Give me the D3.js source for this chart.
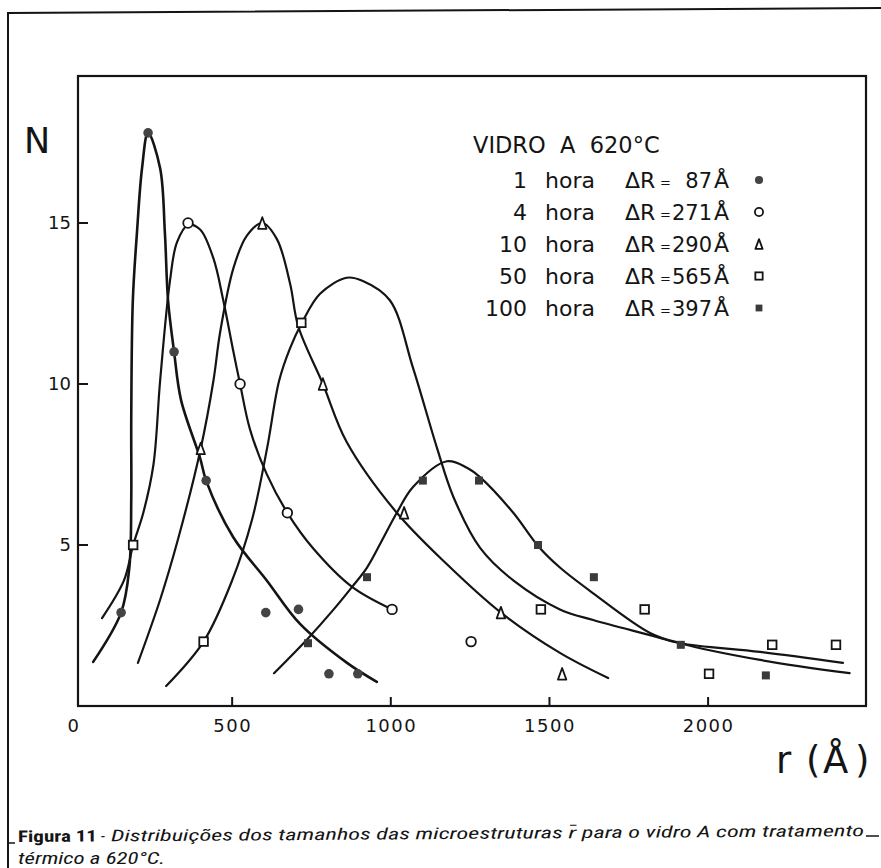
<!DOCTYPE html>
<html><head><meta charset="utf-8">
<script src="https://cdn.jsdelivr.net/npm/d3@7"></script>
<style>body{margin:0;background:#fff}svg{display:block}</style>
</head><body>
<svg id="chart" width="881" height="868"></svg>
<script>
// ---------- data ----------
const hours = ["1", "4", "10", "50", "100"];
const deltaR = ["87", "271", "290", "565", "397"];
const markerKinds = ["dot", "circle", "triangle", "square", "filledSquare"];
const xTicks = [0, 500, 1000, 1500, 2000];
const yTicks = [5, 10, 15];

// measured points  [r (Å), N]
const pts1h   = [[150,2.9],[235,17.8],[317,11],[418,7],[606,2.9],[709,3],[805,1],[896,1]];
const pts4h   = [[361,15],[525,10],[674,6],[1004,3],[1253,2]];
const pts10h  = [[401,8],[595,15],[786,10],[1042,6],[1347,2.9],[1540,1]];
const pts50h  = [[188,5],[410,2],[718,11.9],[1473,3],[1800,3],[2003,1],[2202,1.9],[2403,1.9]];
const pts100h = [[739,1.95],[925,4],[1101,7],[1278,7],[1464,5],[1640,4],[1914,1.9],[2182,0.95]];

// hand-drawn fitted curves  [r (Å), N]
const curve1h   = [[62,1.37],[150,2.9],[176,4.3],[182,6.4],[182,8.9],[187,12.6],[200,14.7],[216,16.7],[235,17.8],[273,16.7],[288,14.7],[298,12.6],[317,11],[339,9.5],[399,7.7],[418,7],[503,5.25],[609,3.9],[714,2.55],[862,1.34],[956,0.75]];
const curve4h   = [[90,2.73],[159,3.9],[188,5],[220,6],[252,7.5],[273,10.1],[304,13.2],[326,14.4],[361,14.94],[399,14.8],[441,13.9],[472,12.6],[504,11],[525,10],[556,8.6],[609,7.2],[674,6],[755,4.9],[878,3.7],[1004,3]];
const curve10h  = [[203,1.34],[273,3.3],[330,5.2],[401,8],[441,10.1],[462,11.6],[504,13.6],[546,14.6],[595,15],[641,14.5],[683,13.1],[708,11.8],[786,10],[861,8.2],[1019,6],[1177,4.4],[1347,2.9],[1533,1.65],[1685,0.87]];
const curve50h  = [[292,0.62],[410,2],[500,3.9],[563,5.8],[610,8.0],[648,10.1],[682,11.1],[720,11.9],[777,12.8],[861,13.3],[912,13.2],[997,12.6],[1070,10.5],[1146,8.0],[1197,6.5],[1282,4.9],[1386,3.9],[1533,3.0],[1638,2.67],[1817,2.2],[1912,1.95],[2164,1.68],[2425,1.34]];
const curve100h = [[632,1.02],[739,2.1],[820,3.0],[878,3.7],[925,4.3],[970,5.1],[1019,6],[1070,6.8],[1177,7.6],[1240,7.4],[1282,7.1],[1386,6.0],[1464,4.97],[1533,4.3],[1638,3.5],[1817,2.27],[1912,1.95],[2164,1.43],[2446,1.02]];

const series = [
  {pts: pts1h,   curve: curve1h,   kind: markerKinds[0], h: hours[0], dr: deltaR[0], w: 2.6},
  {pts: pts4h,   curve: curve4h,   kind: markerKinds[1], h: hours[1], dr: deltaR[1], w: 2.2},
  {pts: pts10h,  curve: curve10h,  kind: markerKinds[2], h: hours[2], dr: deltaR[2], w: 2.2},
  {pts: pts50h,  curve: curve50h,  kind: markerKinds[3], h: hours[3], dr: deltaR[3], w: 2.2},
  {pts: pts100h, curve: curve100h, kind: markerKinds[4], h: hours[4], dr: deltaR[4], w: 2.2}
];

// ---------- layout ----------
const svg = d3.select("#chart");
const ink = "#141414";
const font = "'DejaVu Sans', sans-serif";
const box = {left: 78, right: 866, top: 76, bottom: 706};
const x = d3.scaleLinear().domain([0, 2500]).range([73.5, 866.75]);
const y = d3.scaleLinear().domain([0, 19.565]).range([706, 76]);

// outer frame (page border)
svg.append("path").attr("d", "M8,868 L8,13 L881,8").attr("fill", "none")
  .attr("stroke", ink).attr("stroke-width", 2);

// plot box
svg.append("rect").attr("x", box.left).attr("y", box.top)
  .attr("width", box.right - box.left).attr("height", box.bottom - box.top)
  .attr("fill", "none").attr("stroke", ink).attr("stroke-width", 2.2);

// x axis (ticks pointing inward)
const xAxis = d3.axisBottom(x).tickValues(xTicks).tickSize(0).tickPadding(12)
  .tickFormat(d3.format("d"));
const gx = svg.append("g").attr("transform", `translate(0,${box.bottom})`).call(xAxis);
gx.select(".domain").remove();
gx.selectAll("text").attr("font-family", font).attr("font-size", 18)
  .attr("fill", ink).attr("letter-spacing", 1.5).attr("dy", "0.75em");
svg.append("g").selectAll("line").data(xTicks.filter(d => d > 0)).join("line")
  .attr("x1", d => x(d)).attr("x2", d => x(d))
  .attr("y1", box.bottom).attr("y2", box.bottom - 9)
  .attr("stroke", ink).attr("stroke-width", 2);

// y axis
const yAxis = d3.axisLeft(y).tickValues(yTicks).tickSize(0).tickPadding(7);
const gy = svg.append("g").attr("transform", `translate(${box.left},0)`).call(yAxis);
gy.select(".domain").remove();
gy.selectAll("text").attr("font-family", font).attr("font-size", 18).attr("fill", ink);
svg.append("g").selectAll("line").data(yTicks).join("line")
  .attr("x1", box.left).attr("x2", box.left + 10)
  .attr("y1", d => y(d)).attr("y2", d => y(d))
  .attr("stroke", ink).attr("stroke-width", 2);

// axis titles
svg.append("text").attr("x", 37).attr("y", 153).attr("text-anchor", "middle")
  .attr("font-family", font).attr("font-size", 35).attr("fill", ink).text("N");
const rt = svg.append("text").attr("y", 773)
  .attr("font-family", font).attr("font-size", 37).attr("fill", ink);
rt.append("tspan").attr("x", 776).text("r");
rt.append("tspan").attr("x", 806).text("(");
rt.append("tspan").attr("x", 823).text("Å");
rt.append("tspan").attr("x", 855).text(")");

// curves
const line = d3.line().x(d => x(d[0])).y(d => y(d[1])).curve(d3.curveCatmullRom.alpha(0.5));
svg.append("g").selectAll("path").data(series).join("path")
  .attr("d", s => line(s.curve)).attr("fill", "none")
  .attr("stroke", ink).attr("stroke-width", s => s.w)
  .attr("stroke-linejoin", "round").attr("stroke-linecap", "round");

// markers
function drawMarker(g, kind, cx, cy, scale) {
  const k = scale || 1;
  if (kind === "dot") {
    g.append("circle").attr("cx", cx).attr("cy", cy).attr("r", 4.8 * k).attr("fill", "#444");
  } else if (kind === "circle") {
    g.append("circle").attr("cx", cx).attr("cy", cy).attr("r", 4.8 * k)
      .attr("fill", "#fff").attr("stroke", ink).attr("stroke-width", 1.8);
  } else if (kind === "triangle") {
    const w = 4.2 * k, h = 5.8 * k;
    g.append("path").attr("d", `M${cx},${cy - h} L${cx + w},${cy + h} L${cx - w},${cy + h} Z`)
      .attr("fill", "#fff").attr("stroke", ink).attr("stroke-width", 1.8).attr("stroke-linejoin", "round");
  } else if (kind === "square") {
    const s = 4.3 * k;
    g.append("rect").attr("x", cx - s).attr("y", cy - s).attr("width", 2 * s).attr("height", 2 * s)
      .attr("fill", "#fff").attr("stroke", ink).attr("stroke-width", 1.8);
  } else {
    const s = 4 * k;
    g.append("rect").attr("x", cx - s).attr("y", cy - s).attr("width", 2 * s).attr("height", 2 * s)
      .attr("fill", "#3a3a3a");
  }
}
const mg = svg.append("g");
series.forEach(s => s.pts.forEach(p => drawMarker(mg, s.kind, x(p[0]), y(p[1]))));

// legend
const lg = svg.append("g").attr("font-family", font).attr("font-size", 22).attr("fill", ink);
lg.append("text").attr("x", 473).attr("y", 153).attr("font-size", 22.5)
  .style("white-space", "pre").text("VIDRO  A  620°C");
series.forEach((s, i) => {
  const by = 188 + i * 32;
  lg.append("text").attr("x", 527).attr("y", by).attr("text-anchor", "end").text(s.h);
  lg.append("text").attr("x", 545).attr("y", by).text("hora");
  lg.append("text").attr("x", 625).attr("y", by).text("ΔR");
  lg.append("text").attr("x", 660).attr("y", by - 1).attr("font-size", 13).text("=");
  lg.append("text").attr("x", 712).attr("y", by).attr("font-size", 21)
    .attr("text-anchor", "end").text(s.dr);
  lg.append("text").attr("x", 714).attr("y", by).text("Å");
  drawMarker(lg, s.kind, 759, by - 8, 0.85);
});

// caption
const cap = svg.append("g").attr("transform", "rotate(-0.4,18,842)").attr("fill", ink);
const capFont = "'Liberation Sans Narrow','Roboto Condensed','Liberation Sans',sans-serif";
const t1 = cap.append("text").attr("y", 842).attr("font-family", capFont).attr("font-size", 16);
t1.append("tspan").attr("x", 18).attr("font-weight", "bold").attr("textLength", 79)
  .attr("lengthAdjust", "spacingAndGlyphs").text("Figura 11");
t1.append("tspan").attr("x", 101).text("-");
t1.append("tspan").attr("x", 111).attr("font-style", "italic").attr("textLength", 753)
  .attr("lengthAdjust", "spacingAndGlyphs")
  .text("Distribuições dos tamanhos das  microestruturas r̄ para o vidro A com tratamento");
cap.append("line").attr("x1", 866).attr("x2", 879).attr("y1", 842).attr("y2", 842)
  .attr("stroke", ink).attr("stroke-width", 1.5);
svg.append("text").attr("x", 18).attr("y", 864).attr("font-family", capFont)
  .attr("font-size", 16).attr("font-style", "italic").attr("fill", ink)
  .attr("textLength", 147).attr("lengthAdjust", "spacingAndGlyphs").text("térmico a 620°C.");
svg.append("line").attr("x1", 8).attr("x2", 15).attr("y1", 843).attr("y2", 843)
  .attr("stroke", ink).attr("stroke-width", 1.5);
</script>
</body></html>
